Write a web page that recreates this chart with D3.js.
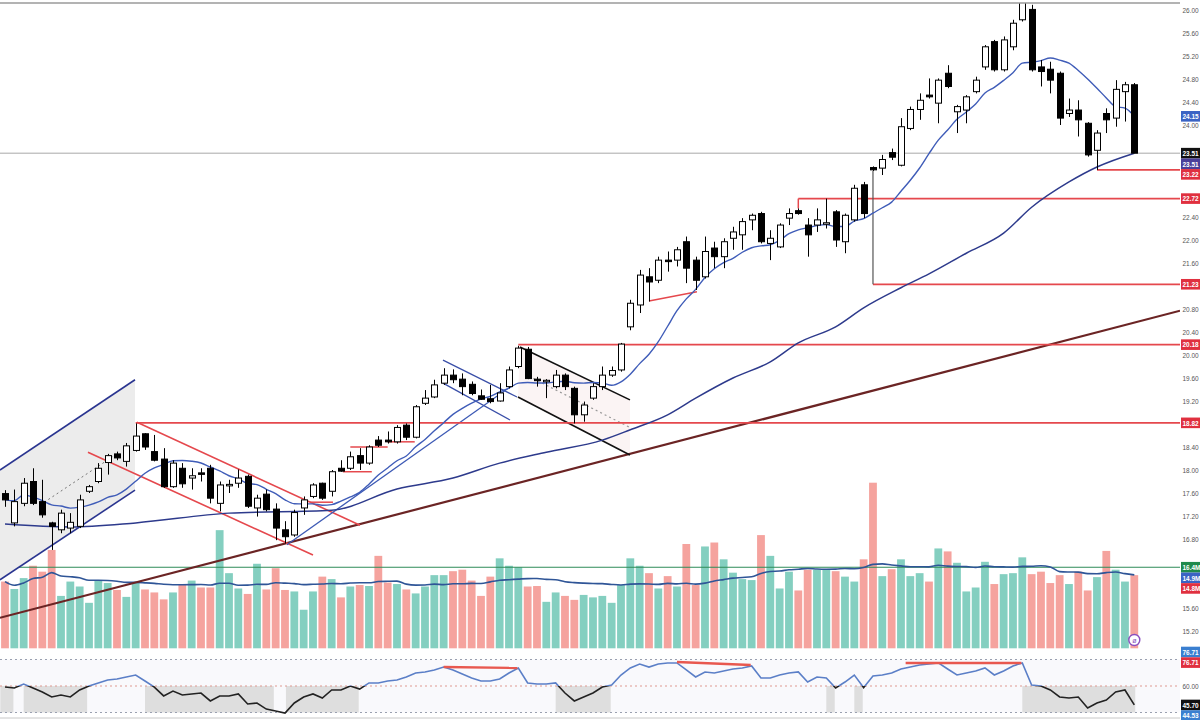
<!DOCTYPE html>
<html><head><meta charset="utf-8">
<script src="https://cdn.jsdelivr.net/npm/d3@7"></script>
<style>body{margin:0;background:#fff;}svg{display:block;font-family:"Liberation Sans",Arial,sans-serif;}</style>
</head><body><svg id="c" width="1200" height="720"></svg>
<script>
// ---------- DATA ----------
const opens=[17.59,17.08,17.42,17.80,17.45,17.08,16.96,16.99,17.02,17.63,
17.80,18.13,18.28,18.15,18.34,18.63,18.32,18.19,17.71,18.03,
17.86,17.95,18.03,17.42,17.74,17.77,17.89,17.34,17.58,17.32,
16.96,16.87,17.34,17.54,17.77,17.63,18.03,18.03,18.25,18.12,
18.52,18.52,18.49,18.78,18.57,19.16,19.27,19.51,19.65,19.58,
19.49,19.29,19.24,19.20,19.45,19.80,20.10,19.58,19.55,19.45,
19.65,19.42,18.96,19.25,19.45,19.65,19.74,20.49,20.87,21.36,
21.30,21.65,21.65,21.97,21.65,21.36,21.86,21.71,22.03,22.09,
22.35,22.46,21.94,21.88,22.38,22.51,22.26,22.26,22.29,22.49,
21.97,22.35,22.96,23.26,23.25,23.52,23.30,23.94,24.27,24.52,
24.38,24.90,24.23,24.26,24.58,25.01,25.45,24.96,25.36,25.83,
26.01,25.01,24.97,24.90,24.20,24.26,24.03,23.56,24.20,24.12,
24.58,24.70];
const highs=[17.65,17.66,17.86,18.03,17.83,17.10,17.31,17.25,17.57,17.74,
18.12,18.28,18.32,18.47,18.81,18.64,18.61,18.38,18.17,18.12,
18.03,18.03,18.09,17.80,17.83,18.01,17.92,17.57,17.66,17.42,
17.11,17.31,17.54,17.77,17.78,18.00,18.17,18.32,18.38,18.43,
18.59,18.67,18.78,18.81,19.13,19.39,19.57,19.77,19.75,19.68,
19.54,19.40,19.48,19.51,19.80,20.16,20.14,19.62,19.58,19.74,
19.68,19.45,19.19,19.51,19.80,19.80,20.21,20.96,21.48,21.51,
21.71,21.80,21.88,22.06,21.71,22.06,21.97,22.03,22.23,22.38,
22.46,22.49,22.17,22.29,22.55,22.55,22.38,22.55,22.72,22.52,
22.46,22.96,23.01,23.28,23.48,23.59,24.12,24.32,24.55,24.81,
24.81,25.04,24.35,24.52,24.84,25.39,25.48,25.54,25.83,26.17,
26.09,25.13,25.10,24.93,24.46,24.43,24.05,23.91,24.29,24.78,
24.75,24.73];
const lows=[17.36,17.02,17.37,17.39,17.17,16.61,16.90,16.90,16.99,17.60,
17.77,17.92,18.17,18.06,18.32,18.35,18.15,17.69,17.69,17.69,
17.66,17.80,17.42,17.28,17.60,17.69,17.34,17.19,17.28,16.78,
16.72,16.84,17.22,17.51,17.48,17.54,17.97,18.00,18.00,18.09,
18.40,18.46,18.46,18.52,18.55,19.13,19.25,19.48,19.51,19.30,
19.30,19.22,19.16,19.19,19.42,19.77,19.58,19.45,19.25,19.42,
19.39,18.81,18.84,19.22,19.39,19.62,19.71,20.43,20.73,20.93,
21.25,21.45,21.54,21.25,21.13,21.33,21.51,21.51,21.83,21.83,
22.17,21.94,21.65,21.86,22.26,22.44,21.71,22.14,22.20,21.88,
21.77,22.32,22.38,23.20,23.13,23.39,23.28,23.91,24.09,24.46,
24.03,24.64,23.86,24.03,24.55,24.96,24.93,24.93,25.30,25.80,
24.93,24.67,24.55,24.00,24.14,23.80,23.45,23.22,23.86,23.97,
24.06,23.51];
const closes=[17.48,17.45,17.77,17.42,17.22,17.02,17.25,17.09,17.48,17.71,
18.03,18.25,18.21,18.42,18.59,18.40,18.17,17.71,18.12,17.76,
17.90,17.94,17.51,17.74,17.75,17.86,17.37,17.51,17.31,16.99,
16.84,17.26,17.48,17.74,17.51,17.97,17.98,18.23,18.12,18.40,
18.43,18.49,18.74,18.57,19.10,19.25,19.48,19.65,19.57,19.45,
19.33,19.23,19.19,19.34,19.74,20.12,19.59,19.57,19.56,19.65,
19.45,18.96,19.13,19.45,19.65,19.73,20.19,20.90,21.39,21.27,
21.65,21.64,21.83,21.51,21.30,21.80,21.71,21.97,22.14,22.32,
22.43,21.97,22.03,22.26,22.46,22.46,22.09,22.35,22.30,22.00,
22.43,22.90,22.46,23.22,23.40,23.44,23.97,24.27,24.43,24.49,
24.78,24.67,24.32,24.49,24.78,25.36,24.96,25.48,25.77,26.14,
24.96,24.93,24.78,24.12,24.26,24.09,23.48,23.86,24.09,24.62,
24.70,23.51];
const volumes=[13.5,12.0,14.2,16.7,15.5,19.9,10.6,13.5,12.5,9.2,
13.8,13.2,11.8,10.4,13.2,11.9,11.3,9.9,11.3,13.0,
13.7,12.3,12.3,23.9,15.2,12.1,11.0,17.1,11.9,16.2,
11.8,11.5,7.8,11.5,14.5,14.0,10.3,12.5,12.8,12.6,
18.7,13.3,13.0,11.9,11.1,12.5,14.8,14.8,15.6,15.9,
13.7,10.6,14.5,18.2,16.7,16.4,12.5,12.6,9.4,11.3,
10.6,9.8,10.8,10.3,10.6,9.2,12.8,18.2,16.7,15.2,
12.1,14.6,12.5,21.1,12.8,20.6,21.4,18.0,15.3,14.0,
13.8,22.9,18.7,12.1,15.5,11.7,15.9,15.9,15.9,15.6,
14.5,13.5,18.0,33.5,14.6,16.0,18.0,14.6,15.2,13.5,
20.2,19.6,17.3,11.5,12.3,17.5,13.0,15.0,15.2,18.4,
15.0,15.5,13.2,14.8,13.0,15.5,11.7,14.4,19.7,15.9,
13.5,14.8];
const rsiValues=[59.2,58.5,61.5,58.5,55.5,51.7,53.2,51.7,57.0,60.0,
62.3,64.5,65.3,66.8,68.3,63.8,59.2,52.5,56.2,53.2,
54.0,54.7,48.7,52.5,52.5,54.0,46.4,47.2,42.6,41.1,
39.6,47.2,51.7,54.0,50.9,57.0,57.0,60.0,57.7,62.3,
62.3,63.8,64.5,66.8,69.8,70.6,72.1,74.3,72.1,69.1,
66.0,63.8,63.8,65.3,69.8,73.6,62.3,61.5,61.5,62.3,
54.7,48.7,51.7,54.7,59.2,60.8,68.3,73.6,76.6,74.3,
76.6,77.4,77.4,72.1,66.8,70.6,69.8,71.3,72.8,73.6,
75.1,66.0,66.0,68.3,69.8,70.6,63.0,66.8,66.0,58.5,
63.0,68.3,58.8,67.5,68.3,69.8,72.8,74.3,75.8,76.6,
77.4,72.8,68.3,69.8,71.3,73.6,68.3,71.3,75.1,77.4,
60.8,60.0,57.0,51.7,50.9,51.7,43.4,47.2,49.4,55.5,
57.0,45.7];
// slow (50) moving average at these bar indices
const slowMAIdx=[0,7,14,24,35,42,48,53,58,64,67,71,74,78,82,85,89,92,96,99,103,107,110,114,117,121];
const slowMAVal=[17.06,17.01,17.08,17.25,17.30,17.67,17.86,18.12,18.31,18.52,18.70,18.96,19.25,19.60,19.88,20.21,20.49,20.82,21.17,21.41,21.77,22.12,22.57,23.01,23.27,23.51];
// RSI shaded spans (bar index from/to)
const rsiShadeFrom=[-0.5,2.0,15.0,30.1,59.0,88.0,91.0,109.0];
const rsiShadeTo=[0.9,8.8,28.8,37.9,64.9,88.9,91.9,121.1];
// drawings in (bar index, price)
const brownTrend=[[-0.54,15.43],[125.9,20.77]];
const blueChUpper=[[-0.54,18.00],[13.93,19.57]];
const blueChLower=[[-0.54,16.09],[13.93,17.65]];
const blueChMid=[[3.75,17.39],[11.79,18.26]];
const redChUpper=[[14.14,18.83],[38.04,17.04]];
const redChLower=[[8.89,18.31],[33.0,16.52]];
const smallChUpper=[[46.93,19.91],[54.86,19.27]];
const smallChLower=[[46.93,19.51],[54.11,18.87]];
const blackChUpper=[[55.18,20.14],[66.96,19.22]];
const blackChLower=[[54.96,19.27],[66.96,18.26]];
const blackChDotted=[[56.6,19.59],[66.96,18.74]];
const blueTrend=[[30.21,16.70],[54.43,19.48]];
const redSlant=[[69.0,20.94],[74.14,21.10]];
const supportFrom=[32.68,36.2,37.0,41.0];
const supportTo=[35.14,39.3,41.0,43.9];
const supportPrice=[17.44,17.97,18.40,18.49];
const levelPrice=[23.22,22.72,21.23,20.18,18.82];
const levelStart=[117,85,93,55,14];
const rsiDivFrom=[[47.0,74.3],[72.0,78.1],[96.5,77.4]];
const rsiDivTo=[[54.9,73.6],[79.9,75.8],[108.9,77.4]];
const priceTicks=[26.0,25.6,25.2,24.8,24.4,24.0,22.4,22.0,21.6,20.8,20.4,20.0,19.6,19.2,18.4,18.0,17.6,17.2,16.8,15.6,15.2];
const volLevel=16.4;
const rsiTop=80, rsiMid=60, rsiBot=40;

// ---------- SCALES ----------
const svg=d3.select('#c');
const n=closes.length, idx=d3.range(n);
const plotR=1180;
const x=d3.scaleLinear().domain([0,121]).range([5,1134.3]);
const y=d3.scaleLinear().domain([15.2,26.0]).range([631,10]);
const yv=d3.scaleLinear().domain([0,33.5]).range([648.3,482.7]);
const yr=d3.scaleLinear().domain([40,80]).range([712.5,659.5]);

const defs=svg.append('defs');
defs.append('clipPath').attr('id','plot').append('rect').attr('x',0).attr('y',3).attr('width',plotR).attr('height',717);
defs.append('clipPath').attr('id','rsiUp').append('rect').attr('x',0).attr('y',640).attr('width',plotR).attr('height',yr(rsiMid)-640);
defs.append('clipPath').attr('id','rsiDn').append('rect').attr('x',0).attr('y',yr(rsiMid)).attr('width',plotR).attr('height',720-yr(rsiMid));

const g=svg.append('g').attr('clip-path','url(#plot)');

// ---------- RSI PANEL ----------
g.append('rect').attr('x',0).attr('y',yr(rsiTop)).attr('width',plotR).attr('height',yr(rsiBot)-yr(rsiTop)).attr('fill','#f9f9fc');
g.selectAll('rect.shade').data(d3.range(rsiShadeFrom.length)).join('rect')
 .attr('x',k=>x(rsiShadeFrom[k])).attr('width',k=>x(rsiShadeTo[k])-x(rsiShadeFrom[k]))
 .attr('y',yr(rsiMid)).attr('height',yr(rsiBot)-yr(rsiMid)).attr('fill','#dedede');
[[rsiTop,'#9aa0b0'],[rsiMid,'#e09a90'],[rsiBot,'#9aa0b0']].forEach(([v,c])=>{
 g.append('line').attr('x1',0).attr('x2',plotR).attr('y1',yr(v)).attr('y2',yr(v))
  .attr('stroke',c).attr('stroke-width',1.2).attr('stroke-dasharray','2,3');
});
const rsiLine=d3.line().x(i=>x(i)).y(i=>yr(rsiValues[i]));
g.append('path').datum(idx).attr('d',rsiLine).attr('fill','none').attr('stroke','#5b7fc7').attr('stroke-width',1.6).attr('clip-path','url(#rsiUp)');
g.append('path').datum(idx).attr('d',rsiLine).attr('fill','none').attr('stroke','#222').attr('stroke-width',1.6).attr('clip-path','url(#rsiDn)');
g.selectAll('line.div').data(d3.range(rsiDivFrom.length)).join('line')
 .attr('x1',k=>x(rsiDivFrom[k][0])).attr('y1',k=>yr(rsiDivFrom[k][1]))
 .attr('x2',k=>x(rsiDivTo[k][0])).attr('y2',k=>yr(rsiDivTo[k][1]))
 .attr('stroke','#e8584f').attr('stroke-width',2.4);
g.append('line').attr('x1',0).attr('x2',plotR).attr('y1',718).attr('y2',718).attr('stroke','#c8c8c8');

// ---------- VOLUME ----------
const up=i=>closes[i]>=opens[i];
g.selectAll('rect.vol').data(idx).join('rect')
 .attr('x',i=>x(i)-3.9).attr('width',7.8)
 .attr('y',i=>yv(volumes[i])).attr('height',i=>yv(0)-yv(volumes[i]))
 .attr('fill',i=>up(i)?'#84cfc0':'#f5a39e');
g.append('line').attr('x1',0).attr('x2',plotR).attr('y1',yv(volLevel)).attr('y2',yv(volLevel)).attr('stroke','#2e8b57').attr('stroke-width',1.2);
const volMA=idx.map(i=>d3.mean(volumes.slice(Math.max(0,i-19),i+1)));
g.append('path').datum(idx).attr('d',d3.line().x(i=>x(i)).y(i=>yv(volMA[i])).curve(d3.curveMonotoneX))
 .attr('fill','none').attr('stroke','#2f5597').attr('stroke-width',1.6);

// ---------- PRICE DRAWINGS ----------
const P=d=>[x(d[0]),y(d[1])];
g.append('path').attr('d',d3.line()([P(blueChUpper[0]),P(blueChUpper[1]),P(blueChLower[1]),P(blueChLower[0])])+'Z').attr('fill','#ececec');
g.append('path').attr('d',d3.line()([P(blackChUpper[0]),P(blackChUpper[1]),P(blackChLower[1]),P(blackChLower[0])])+'Z').attr('fill','#fbf4f4');
function seg(pts,color,w,dash){
 const l=g.append('line').attr('x1',x(pts[0][0])).attr('y1',y(pts[0][1])).attr('x2',x(pts[1][0])).attr('y2',y(pts[1][1]))
  .attr('stroke',color).attr('stroke-width',w);
 if(dash) l.attr('stroke-dasharray',dash);
}
seg(brownTrend,'#6b2424',2.2);
seg(blueChUpper,'#2a3590',1.6);
seg(blueChLower,'#2a3590',1.6);
seg(blueChMid,'#777',1,'2,3');
seg(redChUpper,'#e5484d',1.6);
seg(redChLower,'#e5484d',1.6);
seg(smallChUpper,'#3a4fa8',1.3);
seg(smallChLower,'#3a4fa8',1.3);
seg(blackChUpper,'#111',1.6);
seg(blackChLower,'#111',1.6);
seg(blackChDotted,'#999',1.2,'2,3');
seg(blueTrend,'#3d5ab5',1.3);
seg(redSlant,'#e5484d',1.5);
supportFrom.forEach((a,k)=>seg([[a,supportPrice[k]],[supportTo[k],supportPrice[k]]],'#e5484d',1.5));

levelPrice.forEach((p,k)=>{
 g.append('line').attr('x1',x(levelStart[k])).attr('x2',plotR).attr('y1',y(p)).attr('y2',y(p)).attr('stroke','#e5484d').attr('stroke-width',1.7);
});
seg([[85,levelPrice[1]],[85,highs[85]]],'#e5484d',1.5);
seg([[93,lows[93]],[93,levelPrice[2]]],'#555',1.2);

g.append('line').attr('x1',0).attr('x2',plotR).attr('y1',y(closes[n-1])).attr('y2',y(closes[n-1])).attr('stroke','#a8a8a8').attr('stroke-width',1);

const fastMA=idx.map(i=>d3.mean(closes.slice(Math.max(0,i-9),i+1)));
g.append('path').datum(d3.range(slowMAIdx.length))
 .attr('d',d3.line().x(k=>x(slowMAIdx[k])).y(k=>y(slowMAVal[k])).curve(d3.curveMonotoneX))
 .attr('fill','none').attr('stroke','#2d3a8c').attr('stroke-width',1.5);
g.append('path').datum(idx).attr('d',d3.line().x(i=>x(i)).y(i=>y(fastMA[i])).curve(d3.curveMonotoneX))
 .attr('fill','none').attr('stroke','#3f5cb8').attr('stroke-width',1.4);

const cg=g.append('g');
cg.selectAll('line.wick').data(idx).join('line')
 .attr('x1',i=>Math.round(x(i))+0.5).attr('x2',i=>Math.round(x(i))+0.5)
 .attr('y1',i=>y(highs[i])).attr('y2',i=>y(lows[i])).attr('stroke','#000').attr('stroke-width',1);
cg.selectAll('rect.body').data(idx).join('rect')
 .attr('x',i=>Math.round(x(i))-2.5).attr('width',6)
 .attr('y',i=>y(Math.max(opens[i],closes[i])))
 .attr('height',i=>Math.max(1.5,Math.abs(y(opens[i])-y(closes[i]))))
 .attr('fill',i=>up(i)?'#fff':'#000').attr('stroke','#000').attr('stroke-width',1);

svg.append('line').attr('x1',0).attr('x2',plotR).attr('y1',3).attr('y2',3).attr('stroke','#9a9a9a').attr('stroke-width',1.6);

svg.append('circle').attr('cx',x(121)).attr('cy',640).attr('r',5.5).attr('fill','#fff').attr('stroke','#8a4fbf').attr('stroke-width',1.4);
svg.append('text').attr('x',x(121)).attr('y',643).attr('text-anchor','middle').attr('font-size',7).attr('fill','#8a4fbf').text('ø');

// ---------- RIGHT AXIS ----------
const fmt=d3.format('.2f');
const ax=svg.append('g');
const TX=1182.5, FS=7.5, SX=0.86;
function axText(yy,t,color,bold){
 ax.append('text').attr('transform',`translate(${TX},${yy}) scale(${SX},1)`)
  .attr('font-size',FS).attr('fill',color).attr('font-weight',bold?'bold':'normal').text(t);
}
priceTicks.forEach(v=>axText(y(v)+3,fmt(v),'#555',false));
axText(yr(rsiMid)+3,fmt(rsiMid),'#555',false);

function labels(list){
 list.sort((a,b)=>a.y-b.y);
 for(let k=1;k<list.length;k++){ if(list[k].y<list[k-1].y+10.6) list[k].y=list[k-1].y+10.6; }
 list.forEach(l=>{
  ax.append('rect').attr('x',1181).attr('y',l.y-5.3).attr('width',19).attr('height',10.6).attr('fill',l.c);
  axText(l.y+2.8,l.t,'#fff',true);
 });
}
labels([
 {y:y(fastMA[n-1]),t:fmt(fastMA[n-1]),c:'#3a63c4'},
 {y:y(closes[n-1]),t:fmt(closes[n-1]),c:'#111'},
 {y:y(slowMAVal[slowMAVal.length-1])+0.1,t:fmt(slowMAVal[slowMAVal.length-1]),c:'#4b3f9a'},
 {y:y(levelPrice[0]),t:fmt(levelPrice[0]),c:'#e0303f'},
 {y:y(levelPrice[1]),t:fmt(levelPrice[1]),c:'#e0303f'},
 {y:y(levelPrice[2]),t:fmt(levelPrice[2]),c:'#e0303f'},
 {y:y(levelPrice[3]),t:fmt(levelPrice[3]),c:'#e0303f'},
 {y:y(levelPrice[4]),t:fmt(levelPrice[4]),c:'#e0303f'}
]);
labels([
 {y:yv(volLevel),t:volLevel.toFixed(1)+'M',c:'#1f8a4c'},
 {y:yv(volMA[n-1])+0.2,t:volMA[n-1].toFixed(1)+'M',c:'#3a63c4'},
 {y:yv(volumes[n-1])+0.4,t:volumes[n-1].toFixed(1)+'M',c:'#e0303f'}
]);
labels([
 {y:652,t:'76.71',c:'#3a7fd0'},
 {y:662,t:'76.71',c:'#e0303f'}
]);
labels([
 {y:yr(rsiValues[n-1]),t:fmt(rsiValues[n-1]),c:'#111'},
 {y:yr(rsiValues[n-1])+0.1,t:'44.53',c:'#3a7fd0'}
]);
</script></body></html>
